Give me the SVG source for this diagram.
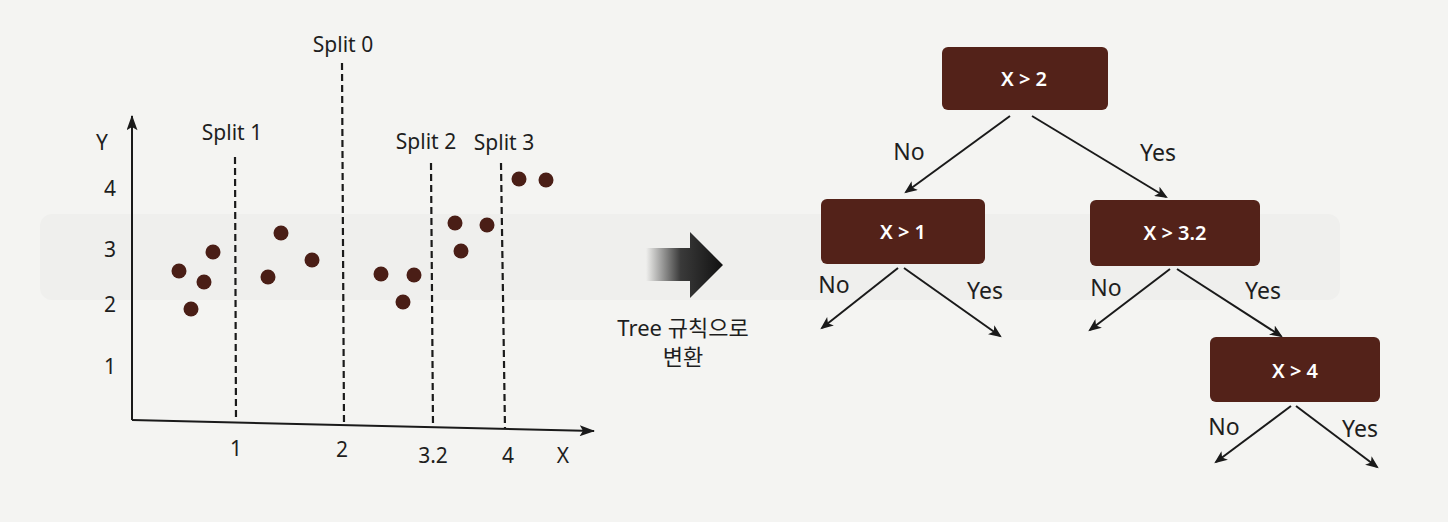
<svg xmlns="http://www.w3.org/2000/svg" width="1448" height="522" viewBox="0 0 1448 522">
<defs>
<style>
.t{font-family:"Noto Sans","DejaVu Sans",sans-serif;fill:#1e1e1e;text-anchor:middle}
.lbl{font-size:21px}
.kr{font-family:"Noto Sans","Noto Sans CJK KR",sans-serif;font-size:22px}
.edge{font-size:23px}
.box{fill:#532219;rx:6;ry:6}
.bt{font-family:"Noto Sans","DejaVu Sans",sans-serif;font-size:20px;font-weight:600;fill:#ffffff;text-anchor:middle}
.dash{stroke:#1a1a1a;stroke-width:2.2;stroke-dasharray:7 4;fill:none}
.ax{stroke:#1a1a1a;stroke-width:2;fill:none}
.con{stroke:#1a1a1a;stroke-width:2;fill:none;marker-end:url(#ah)}
.pt{fill:#4a1e16}
</style>
<marker id="ah" viewBox="0 0 12 10" refX="10" refY="5" markerWidth="13" markerHeight="11" markerUnits="userSpaceOnUse" orient="auto">
<path d="M0,0 L12,5 L0,10 L3,5 z" fill="#1a1a1a"/>
</marker>
<marker id="axh" viewBox="0 0 14 10" refX="13" refY="5" markerWidth="16" markerHeight="11" markerUnits="userSpaceOnUse" orient="auto">
<path d="M0,0 L14,5 L0,10 L3,5 z" fill="#1a1a1a"/>
</marker>
<linearGradient id="ag" x1="0" y1="0" x2="1" y2="0">
<stop offset="0" stop-color="#1a1a1a" stop-opacity="0"/>
<stop offset="0.45" stop-color="#1a1a1a" stop-opacity="0.85"/>
<stop offset="1" stop-color="#111"/>
</linearGradient>
</defs>
<rect width="1448" height="522" fill="#f4f4f2"/>
<rect x="40" y="214" width="1300" height="86" rx="12" fill="#efefed"/>

<g id="chart">
<line class="ax" x1="132" y1="420" x2="132" y2="116" marker-end="url(#axh)"/>
<line class="ax" x1="132" y1="420" x2="594" y2="431" marker-end="url(#axh)"/>
<text class="t lbl" x="102" y="150">Y</text>
<text class="t lbl" x="110" y="196">4</text>
<text class="t lbl" x="110" y="257">3</text>
<text class="t lbl" x="110" y="312">2</text>
<text class="t lbl" x="110" y="374">1</text>
<text class="t lbl" x="236" y="456">1</text>
<text class="t lbl" x="342" y="457">2</text>
<text class="t lbl" x="433" y="463">3.2</text>
<text class="t lbl" x="508" y="463">4</text>
<text class="t lbl" x="563" y="463">X</text>
</g>

<g id="splits">
<line class="dash" x1="342" y1="63" x2="344" y2="424"/>
<text class="t lbl" x="343" y="52">Split 0</text>
<line class="dash" x1="235" y1="157" x2="236" y2="421"/>
<text class="t lbl" x="232" y="140">Split 1</text>
<line class="dash" x1="431" y1="163" x2="433" y2="426"/>
<text class="t lbl" x="426" y="149">Split 2</text>
<line class="dash" x1="501" y1="163" x2="505" y2="429"/>
<text class="t lbl" x="504" y="150">Split 3</text>
</g>

<g id="points">
<circle class="pt" cx="179" cy="271" r="7.5"/>
<circle class="pt" cx="204" cy="282" r="7.5"/>
<circle class="pt" cx="213" cy="252" r="7.5"/>
<circle class="pt" cx="191" cy="309" r="7.5"/>
<circle class="pt" cx="268" cy="277" r="7.5"/>
<circle class="pt" cx="281" cy="233" r="7.5"/>
<circle class="pt" cx="312" cy="260" r="7.5"/>
<circle class="pt" cx="381" cy="274" r="7.5"/>
<circle class="pt" cx="414" cy="275" r="7.5"/>
<circle class="pt" cx="403" cy="302" r="7.5"/>
<circle class="pt" cx="455" cy="223" r="7.5"/>
<circle class="pt" cx="461" cy="251" r="7.5"/>
<circle class="pt" cx="487" cy="225" r="7.5"/>
<circle class="pt" cx="519" cy="179" r="7.5"/>
<circle class="pt" cx="546" cy="180" r="7.5"/>
</g>

<g id="transform">
<path d="M646,248 L690,248 L690,232 L723,265 L690,298 L690,281 L646,281 z" fill="url(#ag)"/>
<text class="t kr" x="683" y="336">Tree 규칙으로</text>
<text class="t kr" x="683" y="365">변환</text>
</g>

<g id="n-root">
<rect class="box" x="942" y="47" width="166" height="63"/>
<text class="bt" x="1024" y="86">X &gt; 2</text>
</g>
<g id="n-x1">
<rect class="box" x="821" y="199" width="164" height="65"/>
<text class="bt" x="903" y="239">X &gt; 1</text>
</g>
<g id="n-x32">
<rect class="box" x="1090" y="200" width="170" height="66"/>
<text class="bt" x="1175" y="240">X &gt; 3.2</text>
</g>
<g id="n-x4">
<rect class="box" x="1210" y="337" width="170" height="65"/>
<text class="bt" x="1295" y="378">X &gt; 4</text>
</g>

<g id="connectors">
<line class="con" x1="1010" y1="116" x2="906" y2="192"/>
<line class="con" x1="1032" y1="116" x2="1166" y2="197"/>
<line class="con" x1="898" y1="268" x2="822" y2="328"/>
<line class="con" x1="904" y1="268" x2="1000" y2="336"/>
<line class="con" x1="1170" y1="269" x2="1090" y2="330"/>
<line class="con" x1="1177" y1="269" x2="1281" y2="336"/>
<line class="con" x1="1291" y1="406" x2="1216" y2="462"/>
<line class="con" x1="1296" y1="406" x2="1377" y2="467"/>
<text class="t edge" x="909" y="160">No</text>
<text class="t edge" x="1158" y="161">Yes</text>
<text class="t edge" x="834" y="293">No</text>
<text class="t edge" x="985" y="299">Yes</text>
<text class="t edge" x="1106" y="296">No</text>
<text class="t edge" x="1263" y="299">Yes</text>
<text class="t edge" x="1224" y="435">No</text>
<text class="t edge" x="1360" y="437">Yes</text>
</g>
</svg>
